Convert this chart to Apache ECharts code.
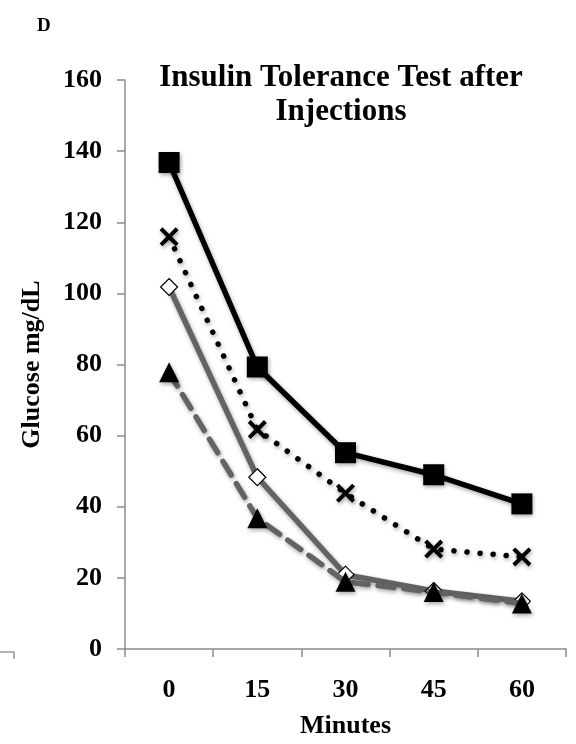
<!DOCTYPE html>
<html>
<head>
<meta charset="utf-8">
<script src="https://cdn.jsdelivr.net/npm/echarts@6/dist/echarts.min.js"></script>
<style>html,body{margin:0;padding:0;background:#fff;}#c{width:576px;height:744px;}</style>
</head>
<body>
<div id="c"></div>
<script>
var categories = ['0', '15', '30', '45', '60'];
var yTicks = [0, 20, 40, 60, 80, 100, 120, 140, 160];
var squareSeries = [136.8, 79.3, 55.2, 49.0, 40.8];
var crossSeries = [115.9, 61.7, 43.8, 28.1, 25.9];
var diamondSeries = [101.8, 48.3, 20.9, 16.3, 13.4];
var triangleSeries = [77.8, 36.8, 18.9, 16.0, 12.8];

var FONT = '"Liberation Serif", "Times New Roman", serif';
var crossPath = 'path://M0,3 L3,0 L10,7 L17,0 L20,3 L13,10 L20,17 L17,20 L10,13 L3,20 L0,17 L7,10 Z';
var shadow = {shadowColor: 'rgba(0,0,0,0.35)', shadowBlur: 4, shadowOffsetX: 1, shadowOffsetY: 2};

var chart = echarts.init(document.getElementById('c'), null, {renderer: 'canvas'});
chart.setOption({
  backgroundColor: '#ffffff',
  animation: false,
  title: [{
    text: 'Insulin Tolerance Test after\nInjections',
    left: 336, top: 56, textAlign: 'center',
    textStyle: {fontFamily: FONT, fontWeight: 'bold', fontSize: 31, color: '#000', lineHeight: 34}
  }, {
    text: 'D', left: 32, top: 12,
    textStyle: {fontFamily: FONT, fontWeight: 'bold', fontSize: 19, color: '#000'}
  }],
  grid: {left: 125, right: 10, top: 80, bottom: 94, containLabel: false},
  xAxis: {
    type: 'category',
    data: categories,
    boundaryGap: true,
    name: 'Minutes',
    nameLocation: 'middle',
    nameGap: 64,
    nameTextStyle: {fontFamily: FONT, fontWeight: 'bold', fontSize: 26, color: '#000'},
    axisLine: {lineStyle: {color: '#8c8c8c', width: 1.5}},
    axisTick: {show: true, inside: false, length: 8, alignWithLabel: false, lineStyle: {color: '#8c8c8c', width: 1.5}},
    axisLabel: {fontFamily: FONT, fontWeight: 'bold', fontSize: 26, color: '#000', margin: 28},
    splitLine: {show: false}
  },
  yAxis: {
    type: 'value',
    min: yTicks[0], max: yTicks[yTicks.length - 1], interval: 20,
    name: 'Glucose mg/dL',
    nameLocation: 'middle',
    nameGap: 80,
    nameRotate: 90,
    nameTextStyle: {fontFamily: FONT, fontWeight: 'bold', fontSize: 26, color: '#000'},
    axisLine: {show: true, lineStyle: {color: '#8c8c8c', width: 1.5}},
    axisTick: {show: true, inside: false, length: 8, lineStyle: {color: '#8c8c8c', width: 1.5}},
    axisLabel: {fontFamily: FONT, fontWeight: 'bold', fontSize: 26, color: '#000', margin: 23},
    splitLine: {show: false}
  },
  graphic: [{
    type: 'polyline',
    shape: {points: [[0, 652], [14, 652], [14, 659]]},
    style: {stroke: '#9a9a9a', lineWidth: 1.5, fill: null}
  }],
  series: [{
    type: 'line', data: diamondSeries, z: 2,
    symbol: 'diamond', symbolSize: 17,
    itemStyle: {color: '#ffffff', borderColor: '#000', borderWidth: 1.2},
    lineStyle: Object.assign({color: '#636363', width: 5.5, type: 'solid'}, shadow)
  }, {
    type: 'line', data: triangleSeries, z: 3,
    symbol: 'triangle', symbolSize: 20,
    itemStyle: Object.assign({color: '#000', borderWidth: 0}, shadow),
    lineStyle: Object.assign({color: '#636363', width: 5.5, type: [16, 10], cap: 'round'}, shadow)
  }, {
    type: 'line', data: crossSeries, z: 4,
    symbol: crossPath, symbolSize: 19,
    itemStyle: Object.assign({color: '#000', borderWidth: 0}, shadow),
    lineStyle: Object.assign({color: '#000', width: 5.5, type: [0.1, 13], cap: 'round'}, shadow)
  }, {
    type: 'line', data: squareSeries, z: 5,
    symbol: 'rect', symbolSize: 21,
    itemStyle: Object.assign({color: '#000', borderWidth: 0}, shadow),
    lineStyle: Object.assign({color: '#000', width: 5.5, type: 'solid'}, shadow)
  }]
});
</script>
</body>
</html>
